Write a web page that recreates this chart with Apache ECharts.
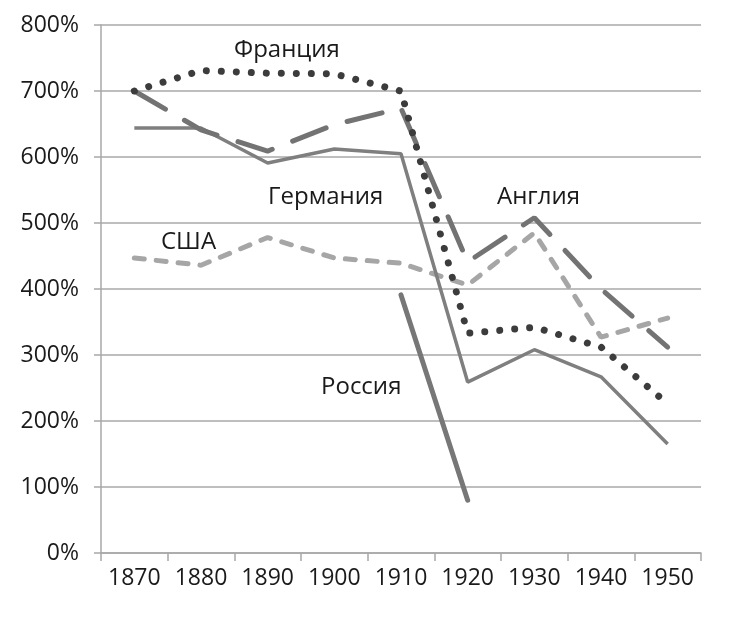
<!DOCTYPE html>
<html lang="ru">
<head>
  <meta charset="UTF-8" />
  <title>chart</title>
  <style>
    * { margin: 0; padding: 0; }
    html, body { width: 736px; height: 626px; background: #fff; }
    #chart { width: 736px; height: 626px; }
  </style>
</head>
<body>
  <div id="chart"></div>
  <script src="https://cdn.jsdelivr.net/npm/echarts@6/dist/echarts.min.js"></script>
  <script>
    // данные, %
    var years = ['1870', '1880', '1890', '1900', '1910', '1920', '1930', '1940', '1950'];
    var france  = [700, 731, 727, 726, 700, 333, 342, 312, 226];
    var england = [700, 641, 609, 649, 674, 441, 508, 400, 312];
    var germany = [644, 644, 591, 612, 605, 259, 308, 267, 165];
    var usa     = [447, 436, 478, 447, 439, 406, 485, 327, 356];
    var russia  = [null, null, null, null, 391, 80, null, null, null];
    var yTicks  = [0, 100, 200, 300, 400, 500, 600, 700, 800];

    var font = '"Open Sans", sans-serif';
    var gridColor = '#a8a8a8';

    var chart = echarts.init(document.getElementById('chart'));

    function label(text, x, y) {
      return {
        type: 'text', left: x, top: y,
        style: { text: text, fontFamily: font, fontSize: 24, fill: '#1a1a1a' }
      };
    }

    chart.setOption({
      animation: false,
      grid: { left: 101, right: 35, top: 25, bottom: 73 },
      xAxis: {
        type: 'category',
        data: years,
        boundaryGap: true,
        axisLine: { lineStyle: { color: gridColor, width: 1.5 } },
        axisTick: { show: true, length: 8, interval: 0, lineStyle: { color: gridColor, width: 1.5 } },
        axisLabel: { interval: 0, color: '#1a1a1a', fontFamily: font, fontSize: 23, margin: 14 }
      },
      yAxis: {
        type: 'value',
        min: yTicks[0],
        max: yTicks[yTicks.length - 1],
        interval: 100,
        axisLine: { show: true, lineStyle: { color: gridColor, width: 1.5 } },
        axisTick: { show: true, length: 7, lineStyle: { color: gridColor, width: 1.5 } },
        axisLabel: { color: '#1a1a1a', fontFamily: font, fontSize: 23, margin: 22, formatter: '{value}%' },
        splitLine: { lineStyle: { color: gridColor, width: 1.5 } }
      },
      series: [
        {
          name: 'США', type: 'line', data: usa, symbol: 'none',
          lineStyle: { color: '#a6a6a6', width: 5, type: [10, 12], cap: 'round' }
        },
        {
          name: 'Германия', type: 'line', data: germany, symbol: 'none',
          lineStyle: { color: '#7f7f7f', width: 3.5 }
        },
        {
          name: 'Англия', type: 'line', data: england, symbol: 'none',
          lineStyle: { color: '#737373', width: 5, type: [36, 22], cap: 'round' }
        },
        {
          name: 'Франция', type: 'line', data: france, symbol: 'none',
          lineStyle: { color: '#3c3c3c', width: 7, type: [0.01, 15], cap: 'round' }
        },
        {
          name: 'Россия', type: 'line', data: russia, symbol: 'none', connectNulls: false,
          lineStyle: { color: '#777777', width: 5, cap: 'round' }
        }
      ],
      graphic: [
        label('Франция', 234, 38),
        label('Германия', 268, 185),
        label('США', 161, 230),
        label('Англия', 497, 185),
        label('Россия', 321, 375)
      ]
    });
  </script>
</body>
</html>
